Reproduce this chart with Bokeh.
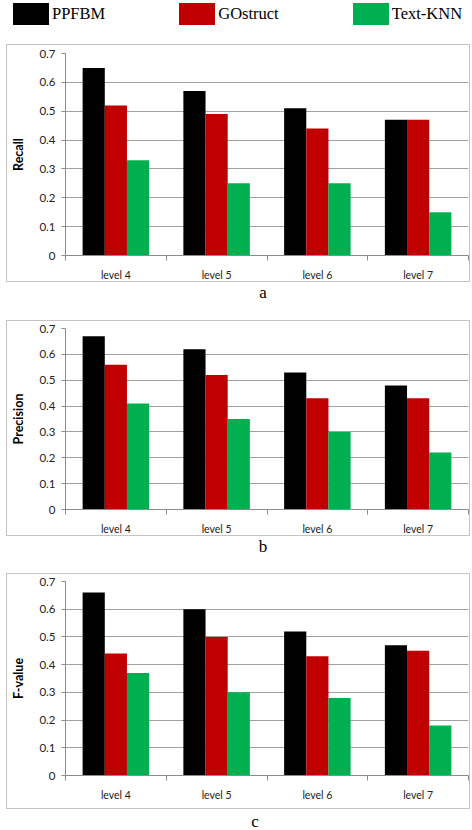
from bokeh.plotting import figure
from bokeh.layouts import column
from bokeh.models import (ColumnDataSource, Range1d, FixedTicker, Div)
from bokeh.transform import dodge
from bokeh.embed import file_html
from bokeh.resources import INLINE

levels = ["level 4", "level 5", "level 6", "level 7"]
methods = ["PPFBM", "GOstruct", "Text-KNN"]
colors = ["#000000", "#C00000", "#00B050"]

recall_ppfbm = [0.65, 0.57, 0.51, 0.47]
recall_gostruct = [0.52, 0.49, 0.44, 0.47]
recall_textknn = [0.33, 0.25, 0.25, 0.15]

precision_ppfbm = [0.67, 0.62, 0.53, 0.48]
precision_gostruct = [0.56, 0.52, 0.43, 0.43]
precision_textknn = [0.41, 0.35, 0.30, 0.22]

fvalue_ppfbm = [0.66, 0.60, 0.52, 0.47]
fvalue_gostruct = [0.44, 0.50, 0.43, 0.45]
fvalue_textknn = [0.37, 0.30, 0.28, 0.18]

y_ticks = [0, 0.1, 0.2, 0.3, 0.4, 0.5, 0.6, 0.7]

FIG_W = 464
LEFT = 58
GRID = "#a0a0a0"
AXIS = "#8c8c8c"
BORDER = "#c4c4c4"
SANS = "Lato"


def panel(ylabel, series, height, mb_top, mb_bottom):
    xpos = [i + 0.5 for i in range(len(levels))]
    src = ColumnDataSource(data=dict(x=xpos, s0=series[0], s1=series[1], s2=series[2]))
    p = figure(width=FIG_W, height=height, output_backend="svg", toolbar_location=None,
               x_range=Range1d(0, len(levels)), y_range=Range1d(0, 0.7),
               min_border_left=LEFT, min_border_right=3,
               min_border_top=mb_top, min_border_bottom=mb_bottom,
               margin=(0, 0, 0, 6),
               styles={"border": "1px solid " + BORDER})
    offsets = [-0.22, 0.0, 0.22]
    for k in range(3):
        p.vbar(x=dodge("x", offsets[k], range=p.x_range), top="s%d" % k, width=0.22,
               source=src, fill_color=colors[k], line_color=None)
    p.outline_line_color = None
    p.xgrid.visible = False
    p.ygrid.grid_line_color = GRID
    p.ygrid.ticker = FixedTicker(ticks=y_ticks)

    xa = p.xaxis[0]
    xa.ticker = FixedTicker(ticks=xpos, minor_ticks=list(range(len(levels) + 1)))
    xa.major_label_overrides = {x: lab for x, lab in zip(xpos, levels)}
    xa.major_tick_out = 0
    xa.major_tick_in = 0
    xa.minor_tick_out = 5
    xa.minor_tick_in = 0
    xa.minor_tick_line_color = AXIS
    xa.axis_line_color = AXIS
    xa.major_label_text_font = SANS
    xa.major_label_text_font_size = "10.5px"
    xa.major_label_text_color = "#222222"
    xa.major_label_standoff = 8

    ya = p.yaxis[0]
    ya.ticker = FixedTicker(ticks=y_ticks, minor_ticks=[])
    ya.major_label_overrides = {0: "0"}
    ya.axis_line_color = AXIS
    ya.major_tick_line_color = AXIS
    ya.major_tick_out = 4
    ya.major_tick_in = 0
    ya.major_label_text_font = SANS
    ya.major_label_text_font_size = "11.5px"
    ya.major_label_text_color = "#222222"
    ya.major_label_standoff = 6
    ya.axis_label = ylabel
    ya.axis_label_text_font = SANS
    ya.axis_label_text_font_size = "12.5px"
    ya.axis_label_text_font_style = "bold"
    ya.axis_label_text_color = "#000000"
    ya.axis_label_standoff = 10
    return p


# legend strip (HTML, real text)
legend_items = "".join(
    '<div style="display:flex;align-items:center;">'
    '<span style="display:inline-block;width:36px;height:22px;background:%s"></span>'
    '<span style="margin-left:3px;line-height:22px">%s</span></div>' % (c, name)
    for name, c in zip(methods, colors))
legend = Div(text='<div style="display:flex;gap:74px;padding:3px 0 0 13px;width:472px;box-sizing:border-box;'
                  'font-family:\'Liberation Serif\';font-size:16.5px;color:#000">%s</div>' % legend_items,
             width=472, height=44, margin=0)

pa = panel("Recall", [recall_ppfbm, recall_gostruct, recall_textknn], 238, 8, 25)
pb = panel("Precision", [precision_ppfbm, precision_gostruct, precision_textknn], 216, 7, 22)
pc = panel("F-value", [fvalue_ppfbm, fvalue_gostruct, fvalue_textknn], 236, 7, 35)


def letter(t, h, pad, lh):
    return Div(text='<div style="width:472px;box-sizing:border-box;text-align:center;padding-left:%dpx;'
                    'font-family:\'Liberation Serif\';font-size:17px;line-height:%dpx;color:#000">%s</div>'
                    % (pad, lh, t),
               width=472, height=h, margin=0)


layout = column(legend, pa, letter("a", 38, 54, 22), pb, letter("b", 37, 54, 22),
                pc, letter("c", 21, 38, 26), spacing=0)

open("out.html", "w").write(file_html(layout, INLINE))
